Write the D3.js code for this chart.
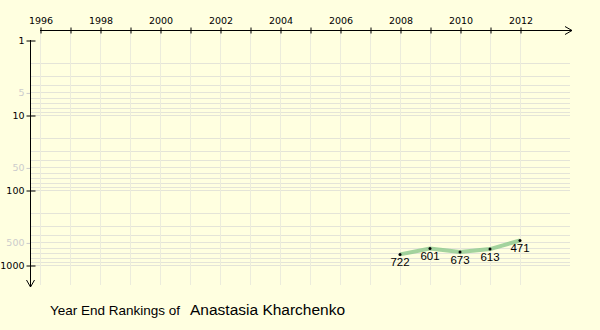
<!DOCTYPE html>
<html>
<head>
<meta charset="utf-8">
<script src="https://cdn.jsdelivr.net/npm/d3@7/dist/d3.min.js"></script>
<style>
	body { margin: 0; background: #ffffe0; }
	svg { display: block; }
	.tick text { font-family: "DejaVu Sans", Verdana, sans-serif; font-size: 9.5px; }
</style>
</head>
<body>
<script>
var years = [2008, 2009, 2010, 2011, 2012],
	ranks = [722, 601, 673, 613, 471],
	yearTicks = d3.range(1996, 2013),
	majorRanks = [1, 10, 100, 1000],
	minorRanks = [5, 50, 500],
	playerName = 'Anastasia Kharchenko';

var width = 600,
	height = 330;

var x = d3.scaleLinear().domain([1996, 2012]).range([40, 520]),
	y = d3.scaleLog().domain([1, 1000]).range([40, 265]);

var svg = d3.select('body').append('svg')
		.attr('width', width)
		.attr('height', height);

svg.append('rect')
		.attr('width', width)
		.attr('height', height)
		.attr('fill', '#ffffe0');

// grid lines
var gridRanks = [];
[1, 10, 100].forEach(function(d) {
	for (var k = 2; k <= 10; k++) gridRanks.push(d * k);
});

svg.append('g').selectAll('line')
		.data(gridRanks)
	.enter().append('line')
		.attr('x1', 30)
		.attr('x2', 570)
		.attr('y1', function(d) { return Math.round(y(d)) + 0.5; })
		.attr('y2', function(d) { return Math.round(y(d)) + 0.5; })
		.attr('stroke', '#e4e4d8');

svg.append('g').selectAll('line')
		.data(yearTicks)
	.enter().append('line')
		.attr('x1', function(d) { return x(d) + 0.5; })
		.attr('x2', function(d) { return x(d) + 0.5; })
		.attr('y1', 30)
		.attr('y2', 285)
		.attr('stroke', '#ececdc');

// x axis on top
var xAxis = d3.axisTop(x)
		.tickValues(yearTicks)
		.tickSizeInner(3)
		.tickSizeOuter(0)
		.tickPadding(4)
		.tickFormat(function(d) { return d % 2 === 0 ? d : ''; });

var gx = svg.append('g')
		.attr('transform', 'translate(0.5,30.5)')
		.call(xAxis);
gx.select('.domain').remove();
gx.selectAll('.tick line').attr('y1', 3).attr('y2', -3).attr('stroke', '#000');
gx.selectAll('.tick text').attr('fill', '#000');

svg.append('path')
		.attr('d', 'M40,30.5H572M565,26.5L572,30.5L565,34.5')
		.attr('fill', 'none')
		.attr('stroke', '#000');

// y axis
var yAxis = d3.axisLeft(y)
		.tickValues(majorRanks)
		.tickSizeInner(4)
		.tickSizeOuter(0)
		.tickPadding(2)
		.tickFormat(d3.format('d'));

var gy = svg.append('g')
		.attr('transform', 'translate(30.5,0.5)')
		.call(yAxis);
gy.select('.domain').remove();
gy.selectAll('.tick line').attr('x1', -4).attr('x2', 5).attr('stroke', '#000');
gy.selectAll('.tick text').attr('fill', '#000');

var gyMinor = svg.append('g')
		.attr('transform', 'translate(30.5,0.5)')
		.call(d3.axisLeft(y).tickValues(minorRanks).tickSizeInner(4).tickSizeOuter(0).tickPadding(2).tickFormat(d3.format('d')));
gyMinor.select('.domain').remove();
gyMinor.selectAll('.tick line').attr('stroke', '#cccccc');
gyMinor.selectAll('.tick text').attr('fill', '#cccccc');

svg.append('path')
		.attr('d', 'M30.5,40V287M26.5,280L30.5,287L34.5,280')
		.attr('fill', 'none')
		.attr('stroke', '#000');

// ranking line
var points = years.map(function(yr, i) { return { year: yr, rank: ranks[i] }; });

svg.append('path')
		.datum(points)
		.attr('d', d3.line()
			.x(function(d) { return x(d.year); })
			.y(function(d) { return y(d.rank); }))
		.attr('fill', 'none')
		.attr('stroke', '#8cc88c')
		.attr('stroke-opacity', 0.8)
		.attr('stroke-width', 4);

svg.selectAll('.pt')
		.data(points)
	.enter().append('circle')
		.attr('class', 'pt')
		.attr('cx', function(d) { return x(d.year); })
		.attr('cy', function(d) { return y(d.rank); })
		.attr('r', 1.5)
		.attr('fill', '#000');

svg.selectAll('.lbl')
		.data(points)
	.enter().append('text')
		.attr('class', 'lbl')
		.attr('x', function(d) { return x(d.year); })
		.attr('y', function(d) { return y(d.rank) + 12; })
		.attr('text-anchor', 'middle')
		.style('font-family', 'Arial, "Liberation Sans", sans-serif')
		.style('font-size', '11.5px')
		.text(function(d) { return d.rank; });

// title
var title = svg.append('text')
		.attr('x', 50)
		.attr('y', 315)
		.style('font-family', 'Arial, "Liberation Sans", sans-serif')
		.attr('fill', '#000');
title.append('tspan').style('font-size', '13.5px').text('Year End Rankings of ');
title.append('tspan').attr('x', 190).style('font-size', '15.5px').text(playerName);
</script>
</body>
</html>
